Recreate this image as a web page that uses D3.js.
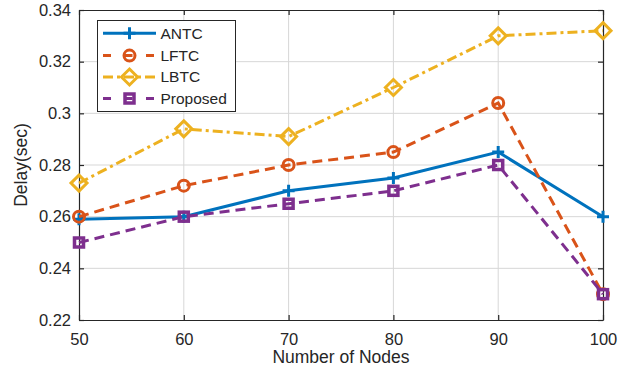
<!DOCTYPE html>
<html><head><meta charset="utf-8">
<script src="https://cdn.jsdelivr.net/npm/d3@7"></script>
<style>html,body{margin:0;padding:0;background:#fff;}svg{display:block;font-family:"Liberation Sans",Arial,sans-serif;}</style>
</head><body>
<svg id="c" width="624" height="377"></svg>
<script>
const nodes = [50, 60, 70, 80, 90, 100];
const antc = [0.259, 0.260, 0.270, 0.275, 0.285, 0.260];
const lftc = [0.260, 0.272, 0.280, 0.285, 0.304, 0.230];
const lbtc = [0.273, 0.294, 0.291, 0.310, 0.330, 0.332];
const proposed = [0.250, 0.260, 0.265, 0.270, 0.280, 0.230];
const yTicks = [0.22, 0.24, 0.26, 0.28, 0.30, 0.32, 0.34];
const yTickLabels = ["0.22", "0.24", "0.26", "0.28", "0.3", "0.32", "0.34"];
const seriesNames = ["ANTC", "LFTC", "LBTC", "Proposed"];

const series = [
  {name: seriesNames[0], values: antc, color: "#0072BD", dash: null, marker: "plus"},
  {name: seriesNames[1], values: lftc, color: "#D95319", dash: "10,6", marker: "circle"},
  {name: seriesNames[2], values: lbtc, color: "#EDB120", dash: "10,4,3,4", marker: "diamond"},
  {name: seriesNames[3], values: proposed, color: "#7E2F8E", dash: "10,6", marker: "square"}
];

const svg = d3.select("#c");
const L = 79, R = 603, T = 10, B = 320;
const x = d3.scaleLinear().domain([50, 100]).range([L, R]);
const y = d3.scaleLinear().domain([0.22, 0.34]).range([B, T]);
const axisColor = "#262626";

// grid
const g = svg.append("g");
g.selectAll(".gx").data(nodes.slice(1, -1)).enter().append("line")
  .attr("x1", d => x(d)).attr("x2", d => x(d)).attr("y1", T).attr("y2", B)
  .attr("stroke", "#d7d7d7").attr("stroke-width", 1);
g.selectAll(".gy").data(yTicks.slice(1, -1)).enter().append("line")
  .attr("y1", d => y(d)).attr("y2", d => y(d)).attr("x1", L).attr("x2", R)
  .attr("stroke", "#d7d7d7").attr("stroke-width", 1);

// axes with inward ticks
const tl = 5;
const xb = svg.append("g").attr("transform", `translate(0,${B})`)
  .call(d3.axisBottom(x).tickValues(nodes).tickSizeInner(-tl).tickSizeOuter(0).tickPadding(13));
const xt = svg.append("g").attr("transform", `translate(0,${T})`)
  .call(d3.axisTop(x).tickValues(nodes).tickSizeInner(-tl).tickSizeOuter(0).tickFormat(""));
const yl = svg.append("g").attr("transform", `translate(${L},0)`)
  .call(d3.axisLeft(y).tickValues(yTicks).tickSizeInner(-tl).tickSizeOuter(0).tickPadding(8)
    .tickFormat((d, i) => yTickLabels[i]));
const yr = svg.append("g").attr("transform", `translate(${R},0)`)
  .call(d3.axisRight(y).tickValues(yTicks).tickSizeInner(-tl).tickSizeOuter(0).tickFormat(""));
[xb, xt, yl, yr].forEach(a => {
  a.select(".domain").attr("stroke", axisColor).attr("stroke-width", 1.2);
  a.selectAll(".tick line").attr("stroke", axisColor).attr("stroke-width", 1.2);
  a.selectAll("text").attr("fill", axisColor).style("font-size", "16.5px")
    .style("font-family", '"Liberation Sans",Arial,sans-serif');
});

// markers
function drawMarker(sel, type, color) {
  if (type === "plus") {
    sel.append("path").attr("d", "M-6,0H6M0,-6V6").attr("stroke", color).attr("stroke-width", 3).attr("fill", "none");
  } else if (type === "circle") {
    sel.append("circle").attr("r", 5.5).attr("stroke", color).attr("stroke-width", 3).attr("fill", "none");
  } else if (type === "diamond") {
    sel.append("path").attr("d", "M0,-8L8,0L0,8L-8,0Z").attr("stroke", color).attr("stroke-width", 3).attr("fill", "none");
  } else if (type === "square") {
    sel.append("rect").attr("x", -4.5).attr("y", -4.5).attr("width", 9).attr("height", 9)
      .attr("stroke", color).attr("stroke-width", 3.5).attr("fill", "none");
  }
}

const line = d3.line().x((d, i) => x(nodes[i])).y(d => y(d));
series.forEach(s => {
  svg.append("path").datum(s.values).attr("d", line)
    .attr("fill", "none").attr("stroke", s.color).attr("stroke-width", 3)
    .attr("stroke-dasharray", s.dash);
  s.values.forEach((v, i) => {
    const m = svg.append("g").attr("transform", `translate(${x(nodes[i])},${y(v)})`);
    drawMarker(m, s.marker, s.color);
  });
});

// axis labels
svg.append("text").attr("x", (L + R) / 2).attr("y", 363).attr("text-anchor", "middle")
  .attr("fill", axisColor).style("font-size", "17.5px").text("Number of Nodes");
svg.append("text").attr("transform", `translate(27,${(T + B) / 2}) rotate(-90)`).attr("text-anchor", "middle")
  .attr("fill", axisColor).style("font-size", "17.5px").text("Delay(sec)");

// legend
const lg = svg.append("g");
lg.append("rect").attr("x", 97.5).attr("y", 20.5).attr("width", 138).attr("height", 91)
  .attr("fill", "#fff").attr("stroke", axisColor).attr("stroke-width", 1);
const rowY = [33.3, 55.6, 77, 98.5];
series.forEach((s, i) => {
  const yy = rowY[i];
  lg.append("line").attr("x1", 103).attr("x2", 156).attr("y1", yy).attr("y2", yy)
    .attr("stroke", s.color).attr("stroke-width", 3)
    .attr("stroke-dasharray", s.dash ? (s.marker === "diamond" ? "10,4,3,4" : "8,13.5") : null);
  const m = lg.append("g").attr("transform", `translate(129.5,${yy})`);
  drawMarker(m, s.marker, s.color);
  lg.append("text").attr("x", 160.5).attr("y", yy).attr("dy", "0.35em")
    .attr("fill", axisColor).style("font-size", "15.5px").text(s.name);
});
</script>
</body></html>
